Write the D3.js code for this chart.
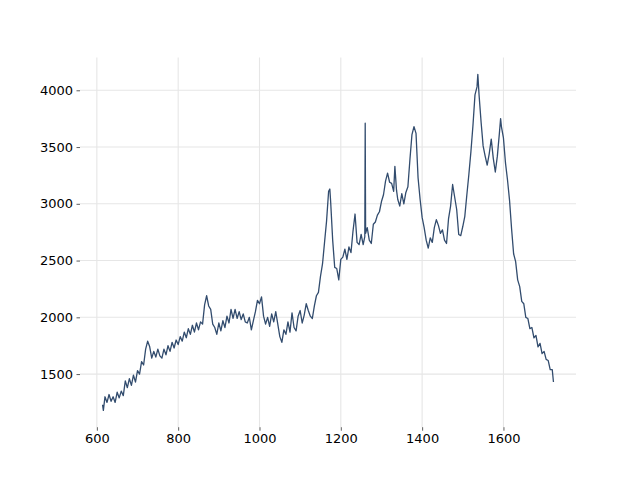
<!DOCTYPE html>
<html>
<head>
<meta charset="utf-8">
<script src="https://cdn.jsdelivr.net/npm/d3@7"></script>
<style>
  html, body { margin: 0; padding: 0; background: #ffffff; }
  svg { display: block; }
  text { font-family: "DejaVu Sans", sans-serif; }
</style>
</head>
<body>
<svg id="chart" width="640" height="480"></svg>
<script>
const xValues = [614,616,620,625,630,635,640,645,650,655,660,665,670,675,680,685,690,695,700,705,710,715,720,725,730,735,740,745,750,755,760,765,770,775,780,785,790,795,800,805,810,815,820,825,830,835,840,845,850,855,860,865,870,875,880,885,890,895,900,905,910,915,920,925,930,935,940,945,950,955,960,965,970,975,980,985,990,995,1000,1005,1010,1015,1020,1025,1030,1035,1040,1045,1050,1055,1060,1065,1070,1075,1080,1085,1090,1095,1100,1105,1110,1115,1120,1125,1130,1135,1140,1145,1150,1155,1160,1165,1170,1173,1175,1180,1185,1190,1195,1200,1205,1210,1215,1220,1225,1230,1235,1240,1245,1250,1255,1259,1260,1261,1265,1270,1275,1280,1285,1290,1295,1300,1305,1310,1315,1320,1325,1330,1333,1337,1340,1345,1350,1355,1360,1365,1370,1375,1380,1385,1390,1395,1400,1405,1410,1415,1420,1425,1430,1435,1440,1445,1450,1455,1460,1465,1470,1475,1480,1485,1490,1495,1500,1505,1510,1515,1520,1525,1530,1535,1537,1540,1545,1550,1555,1560,1565,1570,1575,1580,1585,1590,1593,1595,1600,1605,1610,1615,1620,1625,1630,1635,1640,1645,1650,1655,1660,1665,1670,1675,1680,1685,1690,1695,1700,1705,1710,1715,1720,1723];
const yValues = [1230,1180,1300,1250,1320,1260,1300,1250,1340,1290,1350,1310,1440,1380,1460,1400,1490,1430,1530,1500,1610,1580,1720,1790,1740,1640,1700,1650,1720,1660,1640,1720,1670,1750,1700,1780,1730,1800,1760,1830,1790,1870,1820,1900,1850,1930,1870,1950,1890,1960,1940,2110,2190,2100,2070,1940,1910,1850,1950,1880,1970,1910,2010,1950,2070,1990,2070,1990,2050,1980,2030,1960,1950,2000,1890,1970,2050,2150,2120,2180,2010,1940,2000,1920,2030,1960,2050,1940,1830,1780,1890,1850,1960,1870,2040,1910,1880,2010,2060,1950,2020,2120,2060,2010,1990,2100,2190,2220,2360,2470,2660,2850,3110,3130,3020,2680,2440,2430,2330,2510,2530,2600,2510,2620,2570,2760,2910,2660,2640,2730,2640,2710,3710,2740,2790,2680,2650,2820,2840,2900,2930,3020,3080,3200,3270,3190,3180,3110,3330,3120,3040,2980,3090,3000,3100,3150,3390,3610,3680,3620,3230,3040,2880,2790,2680,2610,2700,2660,2790,2860,2810,2740,2770,2680,2650,2870,2980,3170,3060,2950,2730,2720,2800,2890,3080,3260,3460,3690,3960,4030,4140,3960,3720,3510,3420,3340,3440,3570,3400,3280,3420,3620,3750,3680,3580,3360,3210,3030,2780,2560,2490,2330,2270,2140,2120,2000,1990,1900,1910,1820,1840,1740,1770,1680,1700,1630,1620,1540,1540,1430];
const xTicks = [600, 800, 1000, 1200, 1400, 1600];
const yTicks = [1500, 2000, 2500, 3000, 3500, 4000];

const plotLeft = 80, plotRight = 576, plotTop = 57.6, plotBottom = 427.2;
const svg = d3.select('#chart');

const data = xValues.map((x, i) => ({x, y: yValues[i]}));
const xMin = d3.min(xValues), xMax = d3.max(xValues);
const yMin = d3.min(yValues), yMax = d3.max(yValues);
const xPad = (xMax - xMin) * 0.05, yPad = (yMax - yMin) * 0.05;

const xScale = d3.scaleLinear().domain([xMin - xPad, xMax + xPad]).range([plotLeft, plotRight]);
const yScale = d3.scaleLinear().domain([yMin - yPad, yMax + yPad]).range([plotBottom, plotTop]);

// grid
svg.append('g').selectAll('line').data(xTicks).join('line')
  .attr('x1', d => xScale(d)).attr('x2', d => xScale(d))
  .attr('y1', plotTop).attr('y2', plotBottom)
  .attr('stroke', '#e6e6e6').attr('stroke-width', 1.1);
svg.append('g').selectAll('line').data(yTicks).join('line')
  .attr('x1', plotLeft).attr('x2', plotRight)
  .attr('y1', d => yScale(d)).attr('y2', d => yScale(d))
  .attr('stroke', '#e6e6e6').attr('stroke-width', 1.1);

// axes
const xAxis = d3.axisBottom(xScale).tickValues(xTicks).tickSize(3.5).tickPadding(3.5).tickFormat(d3.format('d'));
const yAxis = d3.axisLeft(yScale).tickValues(yTicks).tickSize(3.5).tickPadding(3.5).tickFormat(d3.format('d'));

const gx = svg.append('g').attr('transform', `translate(0,${plotBottom})`).call(xAxis);
const gy = svg.append('g').attr('transform', `translate(${plotLeft},0)`).call(yAxis);
[gx, gy].forEach(g => {
  g.select('.domain').remove();
  g.selectAll('.tick line').attr('stroke', '#333').attr('stroke-width', 0.8);
  g.selectAll('.tick text').attr('fill', '#000').style('font-size', '13px').style('font-family', '"DejaVu Sans", sans-serif');
});

// line
const line = d3.line().x(d => xScale(d.x)).y(d => yScale(d.y));
svg.append('path').datum(data)
  .attr('d', line)
  .attr('fill', 'none')
  .attr('stroke', '#324c6e')
  .attr('stroke-width', 1.3)
  .attr('stroke-linejoin', 'round');
</script>
</body>
</html>
